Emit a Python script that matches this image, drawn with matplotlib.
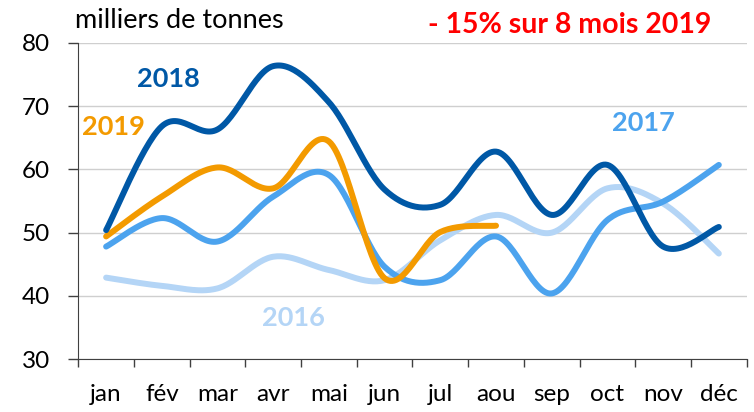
import numpy as np
import matplotlib
matplotlib.use("Agg")
import matplotlib.pyplot as plt

months = ["jan", "fév", "mar", "avr", "mai", "jun", "jul", "aou", "sep", "oct", "nov", "déc"]
v2016 = [42.9, 41.6, 41.2, 46.2, 44.1, 42.5, 48.8, 52.8, 50.0, 57.0, 54.6, 46.7]
v2017 = [47.8, 52.3, 48.6, 55.7, 59.1, 44.6, 42.5, 49.4, 40.4, 52.0, 54.9, 60.7]
v2018 = [50.4, 66.8, 66.3, 76.3, 70.6, 56.8, 54.4, 62.8, 52.8, 60.7, 47.8, 50.9]
v2019 = [49.4, 55.7, 60.3, 57.0, 64.4, 42.8, 50.1, 51.1]

c2016 = "#b4d5f6"
c2017 = "#4ca3ee"
c2018 = "#0058a6"
c2019 = "#f39a00"

plt.rcParams['font.family'] = ['Lato', 'DejaVu Sans']


def smooth(y, n=30):
    """Excel-like Catmull-Rom smoothing through the points."""
    y = np.asarray(y, float)
    x = np.arange(len(y), dtype=float)
    P = np.column_stack([x, y])
    xs, ys = [], []
    for i in range(len(P) - 1):
        p0 = P[i - 1] if i > 0 else P[i]
        p1 = P[i]
        p2 = P[i + 1]
        p3 = P[i + 2] if i + 2 < len(P) else P[i + 1]
        c1 = p1 + (p2 - p0) / 6.0
        c2 = p2 - (p3 - p1) / 6.0
        t = np.linspace(0, 1, n)[:, None]
        B = ((1 - t) ** 3) * p1 + 3 * ((1 - t) ** 2) * t * c1 + 3 * (1 - t) * t ** 2 * c2 + t ** 3 * p2
        xs.append(B[:, 0]); ys.append(B[:, 1])
    return np.concatenate(xs), np.concatenate(ys)


fig = plt.figure(figsize=(7.54, 4.12), dpi=100)
ax = fig.add_axes([0.1038, 0.1279, 0.8865, 0.7685])

lw = 4.3
for vals, col in [(v2016, c2016), (v2017, c2017), (v2019, c2019), (v2018, c2018)]:
    xs, ys = smooth(vals)
    ax.plot(xs, ys, color=col, lw=lw, solid_capstyle='round', solid_joinstyle='round', zorder=3)

ax.set_xlim(-0.5, 11.5)
ax.set_ylim(30, 80)
ax.set_yticks(range(30, 81, 10))
ax.set_xticks(range(12))
ax.set_xticklabels(months)
ax.set_xticks(np.arange(-0.5, 12, 1), minor=True)
ax.tick_params(axis='x', which='major', length=0, labelsize=17.5, pad=18, colors='black')
ax.tick_params(axis='x', which='minor', length=5.8, width=1, color='#404040')
ax.tick_params(axis='y', length=7.2, width=1, color='#404040', labelsize=17.5, pad=13)
ax.grid(axis='y', color='#cfcfcf', lw=1, zorder=0)
for s in ['top', 'right']:
    ax.spines[s].set_visible(False)
ax.spines['left'].set_color('#404040')
ax.spines['bottom'].set_color('#404040')

fig.text(0.0995, 0.932, "milliers de tonnes", fontsize=19.5, ha='left', va='baseline')
fig.text(0.7553, 0.920, "- 15% sur 8 mois 2019", fontsize=20.5, ha='center', va='baseline',
         color='#ff0000', fontweight='bold')

ax.text(1.12, 73.05, "2018", color=c2018, fontsize=19.5, fontweight='bold', ha='center', va='baseline')
ax.text(0.14, 65.42, "2019", color=c2019, fontsize=19.5, fontweight='bold', ha='center', va='baseline')
ax.text(9.64, 66.1, "2017", color=c2017, fontsize=19.5, fontweight='bold', ha='center', va='baseline')
ax.text(3.36, 35.24, "2016", color=c2016, fontsize=19.5, fontweight='bold', ha='center', va='baseline')

fig.savefig("out.png", dpi=100)
